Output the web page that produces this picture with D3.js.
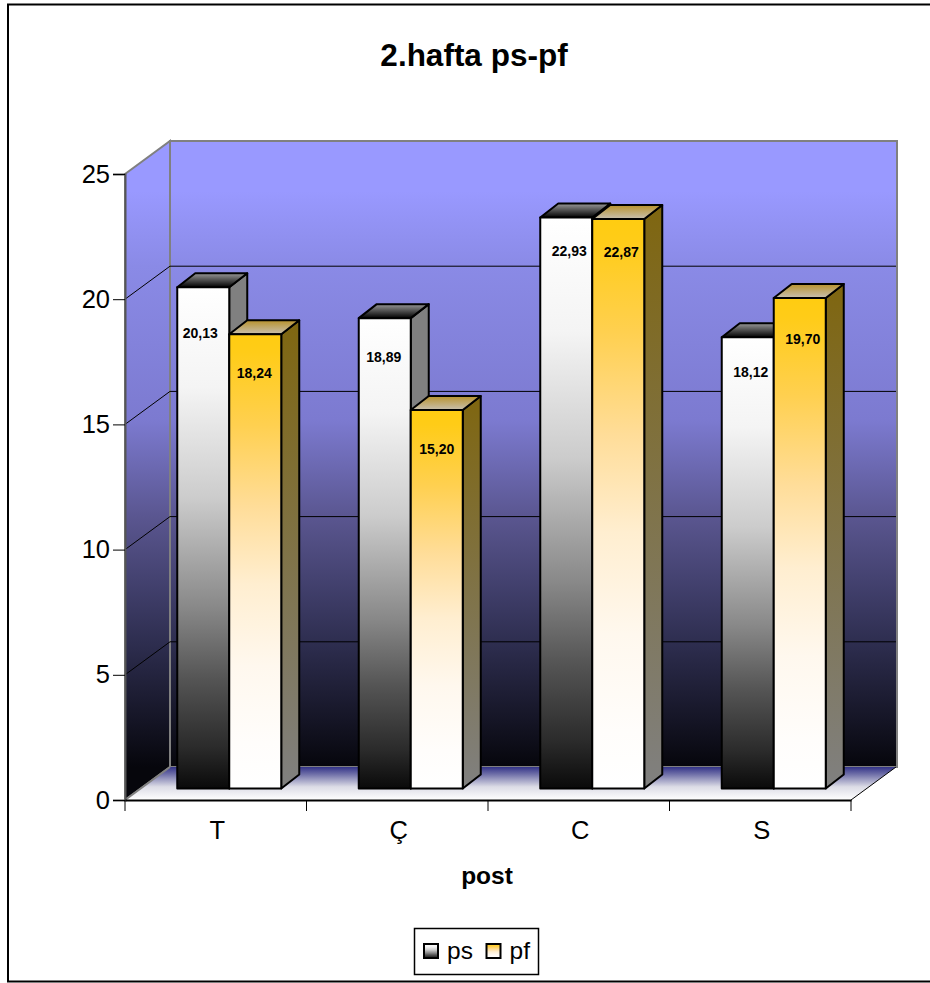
<!DOCTYPE html>
<html>
<head>
<meta charset="utf-8">
<script src="https://cdn.jsdelivr.net/npm/d3@7"></script>
<style>
  html, body { margin: 0; padding: 0; background: #fff; overflow: hidden; }
  svg { display: block; font-family: "Liberation Sans", Arial, sans-serif; }
</style>
</head>
<body>
<div id="chart"></div>
<script>
const categories = ["T", "Ç", "C", "S"];
const seriesNames = ["ps", "pf"];
const psValues = [20.13, 18.89, 22.93, 18.12];
const pfValues = [18.24, 15.20, 22.87, 19.70];
const yTicks = [0, 5, 10, 15, 20, 25];

const width = 930, height = 983;

// front plane of the fake 3d box, everything else is offset from it
const plot = { left: 125, right: 851, top: 174, bottom: 800 };
const depth = { dx: 45, dy: -33 };
const barFront = { dx: 13.5 };
const barDepth = { dx: 18, dy: -14 };

const x = d3.scaleBand().domain(categories).range([plot.left, plot.right]);
const y = d3.scaleLinear().domain([0, 25]).range([plot.bottom, plot.top]);
// bars stand a bit behind the front plane so their scale is slightly smaller
const barY = d3.scaleLinear().domain([0, 25]).range([788.5, 166]);
const barX = d3.scaleBand().domain(seriesNames).range([x.bandwidth() / 2 - 52, x.bandwidth() / 2 + 52]);

const svg = d3.select("#chart").append("svg")
    .attr("width", width)
    .attr("height", height);

const defs = svg.append("defs");

function gradient(id, stops, coords) {
    const g = defs.append("linearGradient").attr("id", id)
        .attr("x1", 0).attr("y1", 0).attr("x2", 0).attr("y2", 1);
    if (coords) {
        g.attr("gradientUnits", "userSpaceOnUse")
            .attr("x1", 0).attr("x2", 0)
            .attr("y1", coords[0]).attr("y2", coords[1]);
    }
    stops.forEach(s => g.append("stop").attr("offset", s[0]).attr("stop-color", s[1]));
}

gradient("wall", [[0, "#9999ff"], [0.08, "#9999ff"], [0.2, "#8a8ae6"], [0.446, "#7c7ad0"],
    [0.6, "#5a5690"], [0.8, "#2e2e50"], [1, "#06060c"]], [plot.top + depth.dy, plot.bottom + depth.dy]);
gradient("floor", [[0, "#333388"], [0.2, "#6a6aa5"], [0.6, "#dcdce6"], [1, "#ffffff"]]);
gradient("psFront", [[0, "#ffffff"], [0.2, "#f4f4f4"], [0.42, "#cccccc"], [0.64, "#888888"],
    [0.78, "#555555"], [0.92, "#2a2a2a"], [1, "#0a0a0a"]]);
gradient("pfFront", [[0, "#ffcc11"], [0.04, "#ffcc18"], [0.2, "#ffd050"], [0.38, "#ffdd99"],
    [0.55, "#ffeed0"], [0.73, "#fff8ee"], [0.9, "#fffdfb"], [1, "#ffffff"]]);
gradient("psTop", [[0, "#999999"], [1, "#000000"]]);
gradient("pfTop", [[0, "#b8922c"], [1, "#c8c0b0"]]);
gradient("pfSide", [[0, "#7f6610"], [1, "#808080"]]);

// outer frame, runs past the right edge of the page
svg.append("rect")
    .attr("x", 8).attr("y", 4.5)
    .attr("width", 940).attr("height", 977)
    .attr("fill", "#fff").attr("stroke", "#000").attr("stroke-width", 2);

svg.append("text")
    .attr("x", 474).attr("y", 66)
    .attr("text-anchor", "middle")
    .attr("font-size", 31.5).attr("font-weight", "bold")
    .text("2.hafta ps-pf");

const pts = a => a.map(p => p.join(",")).join(" ");

// side wall, back wall, floor
svg.append("polygon")
    .attr("points", pts([
        [plot.left, y(25)], [plot.left + depth.dx, y(25) + depth.dy],
        [plot.left + depth.dx, y(0) + depth.dy], [plot.left, y(0)]
    ]))
    .attr("fill", "url(#wall)").attr("stroke", "#808080").attr("stroke-width", 2);

svg.append("rect")
    .attr("x", plot.left + depth.dx).attr("y", y(25) + depth.dy)
    .attr("width", plot.right - plot.left + 1)
    .attr("height", y(0) - y(25))
    .attr("fill", "url(#wall)").attr("stroke", "#808080").attr("stroke-width", 2);

svg.append("polygon")
    .attr("points", pts([
        [plot.left, y(0)], [plot.left + depth.dx, y(0) + depth.dy],
        [plot.right + depth.dx, y(0) + depth.dy], [plot.right, y(0)]
    ]))
    .attr("fill", "url(#floor)");

// gridlines on both walls
const grid = svg.append("g").attr("fill", "none").attr("stroke", "#000").attr("stroke-width", 1);
yTicks.filter(t => t > 0 && t < 25).forEach(t => {
    grid.append("polyline").attr("points", pts([
        [plot.left, y(t)],
        [plot.left + depth.dx, y(t) + depth.dy],
        [plot.right + depth.dx, y(t) + depth.dy]
    ]));
});
grid.append("line")
    .attr("x1", plot.right).attr("y1", y(0))
    .attr("x2", plot.right + depth.dx).attr("y2", y(0) + depth.dy);
svg.append("line")
    .attr("x1", plot.left).attr("y1", y(0))
    .attr("x2", plot.left + depth.dx).attr("y2", y(0) + depth.dy)
    .attr("stroke", "#808080").attr("stroke-width", 2);

// bars
const rows = categories.map((c, i) => ({ cat: c, ps: psValues[i], pf: pfValues[i] }));
const barW = barX.bandwidth();

seriesNames.forEach(name => {
    const g = svg.append("g")
        .attr("class", "series-" + name)
        .attr("stroke", "#000").attr("stroke-width", 2).attr("stroke-linejoin", "round");

    const bar = g.selectAll("g").data(rows).enter().append("g")
        .attr("transform", d => `translate(${x(d.cat) + barX(name) + barFront.dx},0)`);

    bar.append("polygon") // side
        .attr("points", d => pts([
            [barW, barY(d[name])], [barW + barDepth.dx, barY(d[name]) + barDepth.dy],
            [barW + barDepth.dx, barY(0) + barDepth.dy], [barW, barY(0)]
        ]))
        .attr("fill", name === "ps" ? "#808080" : "url(#pfSide)");

    bar.append("polygon") // top
        .attr("points", d => pts([
            [0, barY(d[name])], [barDepth.dx, barY(d[name]) + barDepth.dy],
            [barW + barDepth.dx, barY(d[name]) + barDepth.dy], [barW, barY(d[name])]
        ]))
        .attr("fill", `url(#${name}Top)`);

    bar.append("rect") // front
        .attr("x", 0)
        .attr("y", d => barY(d[name]))
        .attr("width", barW)
        .attr("height", d => barY(0) - barY(d[name]))
        .attr("fill", `url(#${name}Front)`);
});

// value labels were dragged by hand in the original, so each has its own nudge
const labelLift = { ps: [45.5, 39, 33, 35], pf: [39, 39, 33, 41] };
const labelShift = { ps: [-3, -1, 3, 3], pf: [-1, 0, 3, 3] };
const fmt = v => v.toFixed(2).replace(".", ",");
seriesNames.forEach(name => {
    const vals = name === "ps" ? psValues : pfValues;
    svg.append("g").selectAll("text").data(vals).enter().append("text")
        .attr("x", (d, i) => x(categories[i]) + barX(name) + barFront.dx + barW / 2 + labelShift[name][i])
        .attr("y", (d, i) => barY(d) + labelLift[name][i] + 5)
        .attr("text-anchor", "middle")
        .attr("font-size", 14).attr("font-weight", "bold")
        .text(fmt);
});

// axes
const yAxis = svg.append("g")
    .attr("transform", `translate(${plot.left},0)`)
    .call(d3.axisLeft(y).tickValues(yTicks).tickSize(12).tickPadding(3).tickFormat(d3.format("d")));
yAxis.selectAll("text").attr("font-size", 25.5).attr("font-family", "Liberation Sans").attr("fill", "#000");
yAxis.select(".domain").attr("stroke", "#555").attr("stroke-width", 2);

const xAxis = svg.append("g")
    .attr("transform", `translate(1.5,${plot.bottom})`)
    .call(d3.axisBottom(x).tickSize(0).tickPadding(21));
xAxis.selectAll("text").attr("font-size", 25.5).attr("font-family", "Liberation Sans").attr("fill", "#000");
xAxis.select(".domain").attr("transform", "translate(-1.5,0)").attr("stroke", "#000").attr("stroke-width", 2);
xAxis.selectAll(".boundary").data(d3.range(categories.length + 1)).enter().append("line")
    .attr("class", "boundary")
    .attr("x1", i => plot.left - 1.5 + i * x.step()).attr("x2", i => plot.left - 1.5 + i * x.step())
    .attr("y1", 0).attr("y2", 11)
    .attr("stroke", "#000");

svg.append("text")
    .attr("x", 487).attr("y", 884)
    .attr("text-anchor", "middle")
    .attr("font-size", 24.5).attr("font-weight", "bold")
    .text("post");

// legend
const legend = svg.append("g");
legend.append("rect")
    .attr("x", 414.5).attr("y", 928.5)
    .attr("width", 124).attr("height", 46)
    .attr("fill", "#fff").attr("stroke", "#000").attr("stroke-width", 1.5);
seriesNames.forEach((name, i) => {
    const lx = 424 + i * 62.5;
    legend.append("rect")
        .attr("x", lx).attr("y", 944).attr("width", 14).attr("height", 14)
        .attr("fill", `url(#${name}Front)`).attr("stroke", "#000").attr("stroke-width", 2);
    legend.append("text")
        .attr("x", lx + 23).attr("y", 959)
        .attr("font-size", 24.5)
        .text(name);
});
</script>
</body>
</html>
